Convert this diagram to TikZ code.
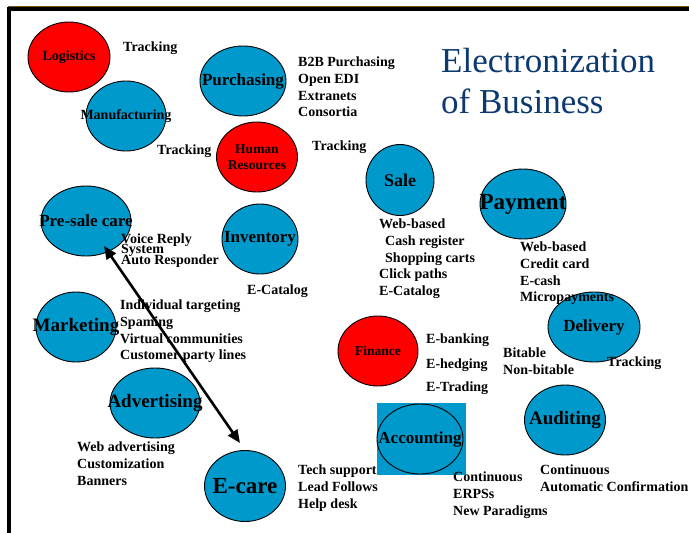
\documentclass[tikz,border=0pt]{standalone}
\usepackage{fontspec}
\setmainfont{Liberation Serif}
\usetikzlibrary{shapes,arrows.meta}

\definecolor{ballblue}{RGB}{0,153,204}
\definecolor{titleblue}{RGB}{12,58,112}
\definecolor{rimbrown}{RGB}{120,85,10}
\newcommand{\bsize}[1]{\fontsize{#1}{#1}\selectfont}

\begin{document}
\begin{tikzpicture}[x=1pt,y=-1pt]
\useasboundingbox (0,0) rectangle (689,533);
\tikzstyle{ball}=[shape=ellipse, draw, line width=0.9pt, inner sep=0, minimum height=70];
\tikzstyle{blueball}=[ball, fill=ballblue];
\tikzstyle{redball}=[ball, fill=red];
\tikzstyle{lbl}=[inner sep=0, align=center];
\tikzstyle{txt}=[inner sep=0, align=left, anchor=north west, font=\bfseries\fontsize{14}{16.6}\selectfont];

% frame
\draw[rimbrown, line width=1.2pt] (8,6.4) -- (689,6.4);
\draw[line width=4pt] (9,9) -- (689,9);
\draw[line width=4pt] (9,7) -- (9,533);

\node[inner sep=0, anchor=north west, align=left, text=titleblue,
  font=\fontsize{35}{41}\selectfont] (title) at (441,48) {Electronization\\of Business};

% balls
\draw (69,57) node[redball, minimum width=82] (logi) {} node[lbl, font=\bfseries\bsize{14}] (logit) {Logistics};
\draw (126,116) node[blueball, minimum width=80] (manu) {} node[lbl, font=\bfseries\bsize{14}] (manut) {Manufacturing};
\draw (243,81) node[blueball, minimum width=86] (purch) {} node[lbl, font=\bfseries\bsize{17}] (purcht) {Purchasing};
\draw (257,157) node[redball, minimum width=81] (hr) {} node[lbl, font=\bfseries\fontsize{13.5}{16}\selectfont] (hrt) {Human\\Resources};
\draw (400,180) node[blueball, minimum width=68, minimum height=71] (sale) {} node[lbl, font=\bfseries\bsize{18}] (salet) {Sale};
\draw (523,204) node[blueball, minimum width=86] (pay) {} node[lbl, font=\bfseries\bsize{23}] (payt) {Payment};
\draw (86,221) node[blueball, minimum width=90] (presale) {} node[lbl, font=\bfseries\bsize{17}] (presalet) {Pre-sale care};
\draw (260,239) node[blueball, minimum width=76] (inv) {} node[lbl, font=\bfseries\bsize{17}] (invt) {Inventory};
\draw (76,327) node[blueball, minimum width=80] (mark) {} node[lbl, font=\bfseries\bsize{19}] (markt) {Marketing};
\draw (155,403) node[blueball, minimum width=90] (adv) {} node[lbl, font=\bfseries\bsize{19}] (advt) {Advertising};
\draw (245,486) node[blueball, minimum width=81, minimum height=71] (ecare) {} node[lbl, font=\bfseries\bsize{23}] (ecaret) {E-care};
\draw (378,351) node[redball, minimum width=80] (fin) {} node[lbl, font=\bfseries\bsize{13.5}] (fint) {Finance};
\draw (594,327) node[blueball, minimum width=92] (deliv) {} node[lbl, font=\bfseries\bsize{17}] (delivt) {Delivery};
\node[fill=ballblue, inner sep=0, minimum width=89, minimum height=72] (accbox) at (421.5,439) {};
\draw (420,439) node[blueball, minimum width=86] (acc) {} node[lbl, font=\bfseries\bsize{17}] (acct) {Accounting};
\draw (565,420) node[blueball, minimum width=81] (aud) {} node[lbl, font=\bfseries\bsize{19}] (audt) {Auditing};

% texts
\node[txt] (trk1) at (123,42) {Tracking};
\node[txt] (b2b) at (298,57) {B2B Purchasing\\Open EDI\\Extranets\\Consortia};
\node[txt] (trk2) at (157,145) {Tracking};
\node[txt] (trk3) at (312,141) {Tracking};
\node[txt] (salel) at (379,219) {Web-based\\\hspace*{6pt}Cash register\\\hspace*{6pt}Shopping carts\\Click paths\\E-Catalog};
\node[txt] (payl) at (520,242) {Web-based\\Credit card\\E-cash\\Micropayments};
\node[txt] (voice) at (121,234) {Voice Reply\\[-7.5pt]System\\[-5.5pt]Auto Responder};
\node[txt] (ecat) at (247,285) {E-Catalog};
\node[txt] (markl) at (120,300) {Individual targeting\\Spaming\\Virtual communities\\Customer party lines};
\node[txt] (advl) at (77,442) {Web advertising\\Customization\\Banners};
\node[txt] (ecarel) at (298,465) {Tech support\\Lead Follows\\Help desk};
\node[txt] (finl) at (426,334) {E-banking\\[7.5pt]E-hedging\\[7pt]E-Trading};
\node[txt] (bit) at (503,348) {Bitable\\Non-bitable};
\node[txt] (trk4) at (607,357) {Tracking};
\node[txt] (accl) at (453,472) {Continuous\\ERPSs\\New Paradigms};
\node[txt] (audl) at (540,465) {Continuous\\Automatic Confirmation};

% care link
\coordinate (careA) at (104,246);
\coordinate (careB) at (240,443);
\draw[line width=2.6pt, {Triangle[length=13pt,width=11pt]}-{Triangle[length=13pt,width=11pt]}] (careA) -- (careB);
\end{tikzpicture}
\end{document}
